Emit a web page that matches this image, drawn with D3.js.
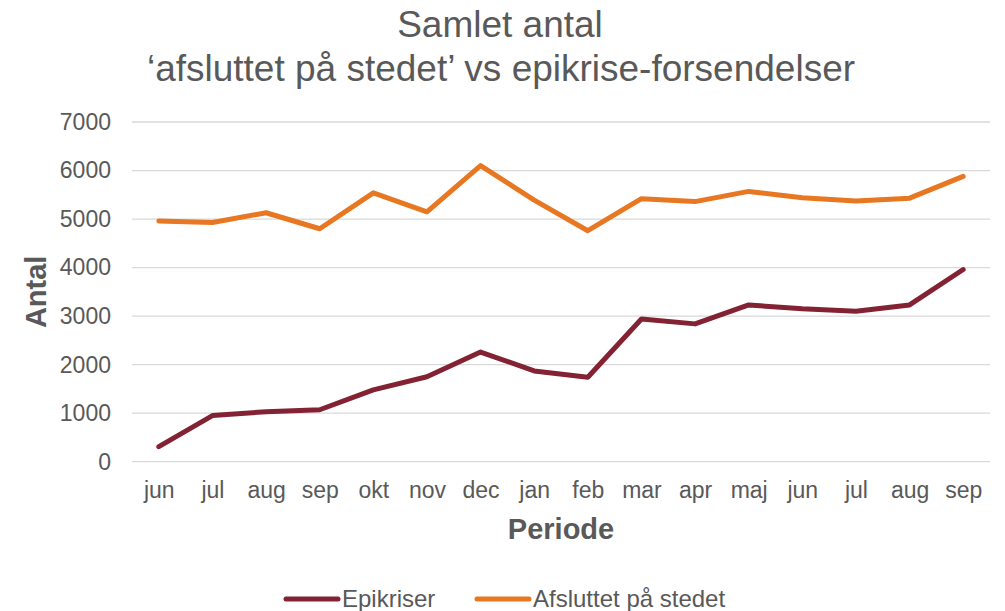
<!DOCTYPE html>
<html>
<head>
<meta charset="utf-8">
<script src="https://cdn.jsdelivr.net/npm/d3@7"></script>
<style>
  body { margin: 0; background: #fff; }
  svg { font-family: "Liberation Sans", Arial, sans-serif; }
</style>
</head>
<body>
<div class="canvas"></div>
<script>
const months = ['jun', 'jul', 'aug', 'sep', 'okt', 'nov', 'dec', 'jan', 'feb', 'mar', 'apr', 'maj', 'jun', 'jul', 'aug', 'sep']
const epikriser = [310, 950, 1030, 1070, 1480, 1750, 2260, 1870, 1740, 2940, 2840, 3230, 3150, 3100, 3230, 3960]
const afsluttet = [4960, 4930, 5130, 4800, 5540, 5150, 6100, 5390, 4760, 5420, 5360, 5570, 5440, 5370, 5430, 5880]
const yTicks = [0, 1000, 2000, 3000, 4000, 5000, 6000, 7000]
const seriesNames = ['Epikriser', 'Afsluttet på stedet']

const dims = { width: 1005, height: 611 }
const plot = { left: 132, right: 990, top: 122, bottom: 461.7 }
const colors = ['#832232', '#E87722']
const textColor = '#595959'
const font = '"Liberation Sans", Arial, sans-serif'

const svg = d3.select('.canvas')
    .append('svg')
    .attr('width', dims.width)
    .attr('height', dims.height)

const idx = d3.range(months.length)

const x = d3.scalePoint()
    .domain(idx)
    .range([plot.left, plot.right])
    .padding(0.5)

const y = d3.scaleLinear()
    .domain([0, 7000])
    .range([plot.bottom, plot.top])

// title
const title = svg.append('text')
    .attr('text-anchor', 'middle')
    .attr('fill', textColor)
    .attr('font-size', 37)
title.append('tspan').attr('x', 500).attr('y', 37).text('Samlet antal')
title.append('tspan').attr('x', 501).attr('y', 81).text('‘afsluttet på stedet’ vs epikrise-forsendelser')

// gridlines
svg.append('g')
    .selectAll('line')
    .data(yTicks)
    .enter()
    .append('line')
        .attr('x1', plot.left)
        .attr('x2', plot.right)
        .attr('y1', d => y(d))
        .attr('y2', d => y(d))
        .attr('stroke', '#d9d9d9')
        .attr('stroke-width', 1.3)

// y axis
const yAxis = d3.axisLeft(y).tickValues(yTicks).tickFormat(d3.format('d')).tickSize(0).tickPadding(0)
svg.append('g')
    .attr('transform', `translate(111, 0)`)
    .call(yAxis)
    .call(g => g.select('.domain').remove())
    .selectAll('text')
        .attr('fill', textColor)
        .attr('font-size', 23)
        .attr('font-family', font)

// x axis
const xAxis = d3.axisBottom(x).tickFormat(i => months[i]).tickSize(0).tickPadding(0)
svg.append('g')
    .attr('transform', `translate(0, 498)`)
    .call(xAxis)
    .call(g => g.select('.domain').remove())
    .selectAll('text')
        .attr('y', 0)
        .attr('dy', null)
        .attr('fill', textColor)
        .attr('font-size', 23)
        .attr('font-family', font)

// axis titles
svg.append('text')
    .attr('x', (plot.left + plot.right) / 2)
    .attr('y', 539)
    .attr('text-anchor', 'middle')
    .attr('fill', textColor)
    .attr('font-size', 29)
    .attr('font-weight', 'bold')
    .text('Periode')

svg.append('text')
    .attr('transform', `translate(46, ${(plot.top + plot.bottom) / 2}) rotate(-90)`)
    .attr('text-anchor', 'middle')
    .attr('fill', textColor)
    .attr('font-size', 29)
    .attr('font-weight', 'bold')
    .text('Antal')

// lines
const line = d3.line()
    .x((d, i) => x(i))
    .y(d => y(d))

svg.append('g')
    .selectAll('path')
    .data([epikriser, afsluttet])
    .enter()
    .append('path')
        .attr('d', line)
        .attr('fill', 'none')
        .attr('stroke', (d, i) => colors[i])
        .attr('stroke-width', 5)
        .attr('stroke-linecap', 'round')
        .attr('stroke-linejoin', 'round')

// legend
const legendX = [286, 477]
const legend = svg.append('g')
    .selectAll('g')
    .data(seriesNames)
    .enter()
    .append('g')
        .attr('transform', (d, i) => `translate(${legendX[i]}, 599)`)

legend.append('line')
    .attr('x1', 0)
    .attr('x2', 52)
    .attr('stroke', (d, i) => colors[i])
    .attr('stroke-width', 5)
    .attr('stroke-linecap', 'round')

legend.append('text')
    .attr('x', 56)
    .attr('y', 8)
    .attr('fill', textColor)
    .attr('font-size', 24)
    .text(d => d)
</script>
</body>
</html>
